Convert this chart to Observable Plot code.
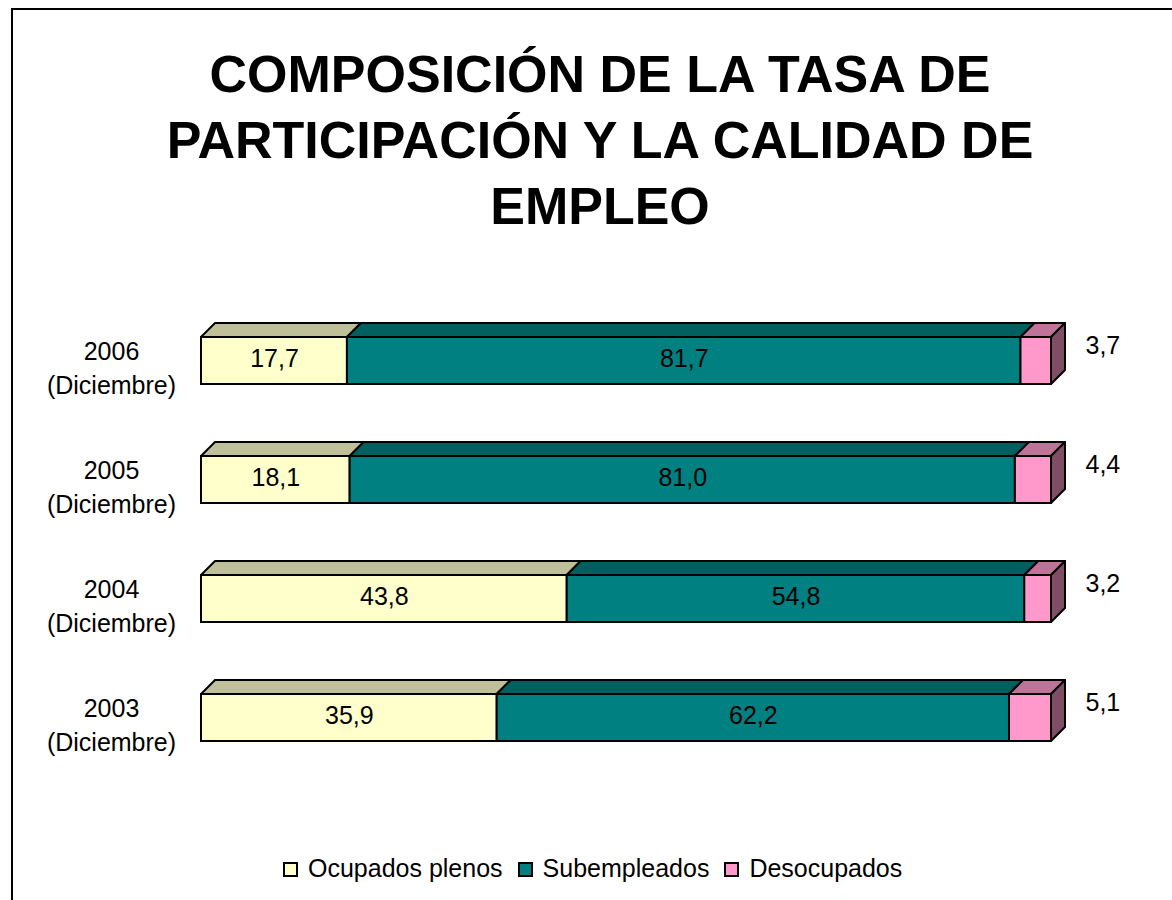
<!DOCTYPE html>
<html>
<head>
<meta charset="utf-8">
<script src="https://cdn.jsdelivr.net/npm/d3@7"></script>
<script src="https://cdn.jsdelivr.net/npm/@observablehq/plot@0.6"></script>
<style>
  html, body { margin: 0; padding: 0; background: #fff; overflow: hidden; }
  body { width: 1172px; height: 900px; position: relative; font-family: "Liberation Sans", Arial, sans-serif; }
  #frame { position: absolute; left: 11px; top: 8px; width: 1300px; height: 1000px; border: 2px solid #000; pointer-events: none; }
  #title { width: 1200px; padding-top: 41px; height: 209px; text-align: center; font-weight: bold; font-size: 52px; line-height: 66px; color: #000; box-sizing: content-box; }
  #chart svg { display: block; overflow: visible; }
  #legend { padding-top: 13px; padding-left: 283px; font-size: 25px; line-height: 30px; white-space: nowrap; color: #000; }
  .sw { display: inline-block; width: 15px; height: 15px; border: 2px solid #000; box-sizing: border-box; vertical-align: baseline; margin-right: 10px; }
  .item { margin-right: 15px; }
</style>
</head>
<body>
<div id="frame"></div>
<div id="title">COMPOSICIÓN DE LA TASA DE<br>PARTICIPACIÓN Y LA CALIDAD DE<br>EMPLEO</div>
<div id="chart"></div>
<div id="legend"></div>
<script>
// ---- data ----
const years = ["2006", "2005", "2004", "2003"];
const yearSub = "(Diciembre)";
const seriesNames = ["Ocupados plenos", "Subempleados", "Desocupados"];
const ocupados = [17.7, 18.1, 43.8, 35.9];
const subempleados = [81.7, 81.0, 54.8, 62.2];
const desocupados = [3.7, 4.4, 3.2, 5.1];
const frontColors = ["#FFFFCC", "#008080", "#FF99CC"];
const topColors = ["#BFBF99", "#006060", "#BF7399"];
const sideColor = "#804D66";

// ---- build stacked, normalized table ----
const seriesValues = [ocupados, subempleados, desocupados];
const rows = [];
years.forEach((yr, j) => {
  const total = seriesValues.reduce((s, arr) => s + arr[j], 0);
  let acc = 0;
  seriesValues.forEach((arr, k) => {
    const v = arr[j];
    rows.push({
      year: yr, series: seriesNames[k], k, value: v,
      x1: acc / total, x2: (acc + v) / total,
      top: topColors[k], label: v.toFixed(1).replace(".", ",")
    });
    acc += v;
  });
});

const D = 14; // 3D depth in px
const SW = 2;

function bw(scales) {
  const b = scales.y.bandwidth;
  return typeof b === "function" ? b() : b;
}

const topFaces = Plot.barX(rows, {
  x1: "x1", x2: "x2", y: "year",
  render(index, scales, values) {
    const g = d3.create("svg:g");
    for (const i of index) {
      const x1 = values.x1[i], x2 = values.x2[i], y = values.y[i];
      g.append("path")
        .attr("d", `M${x1},${y}L${x1 + D},${y - D}L${x2 + D},${y - D}L${x2},${y}Z`)
        .attr("fill", rows[i].top).attr("stroke", "#000")
        .attr("stroke-width", SW).attr("stroke-linejoin", "round");
    }
    return g.node();
  }
});

const lastRows = rows.filter(d => d.k === seriesNames.length - 1);
const sideFaces = Plot.barX(lastRows, {
  x1: "x1", x2: "x2", y: "year",
  render(index, scales, values) {
    const g = d3.create("svg:g");
    const h = bw(scales);
    for (const i of index) {
      const x2 = values.x2[i], y = values.y[i];
      g.append("path")
        .attr("d", `M${x2},${y}L${x2 + D},${y - D}L${x2 + D},${y + h - D}L${x2},${y + h}Z`)
        .attr("fill", sideColor).attr("stroke", "#000")
        .attr("stroke-width", SW).attr("stroke-linejoin", "round");
    }
    return g.node();
  }
});

const chart = Plot.plot({
  width: 1172,
  height: 590,
  marginLeft: 201,
  marginRight: 121,
  marginTop: 15,
  marginBottom: 27,
  style: { fontFamily: "'Liberation Sans', Arial, sans-serif", overflow: "visible", background: "transparent" },
  x: { domain: [0, 1], axis: null },
  y: { domain: years, padding: 0.605, axis: null },
  color: { domain: seriesNames, range: frontColors },
  marks: [
    topFaces,
    sideFaces,
    Plot.barX(rows, { x1: "x1", x2: "x2", y: "year", fill: "series", stroke: "#000", strokeWidth: SW }),
    Plot.text(rows.filter(d => d.k < seriesNames.length - 1), {
      x: d => (d.x1 + d.x2) / 2, y: "year", text: "label",
      fontSize: 25, fill: "#000", dy: -2
    }),
    Plot.text(lastRows, {
      x: "x2", y: "year", text: "label", textAnchor: "start",
      fontSize: 25, fill: "#000", dx: 34, dy: -15
    }),
    Plot.text(years, {
      y: d => d, frameAnchor: "left", text: d => d + "\n" + yearSub,
      textAnchor: "middle", dx: -90, dy: 5.5, lineHeight: 1.36,
      fontSize: 25, fill: "#000"
    })
  ]
});
document.getElementById("chart").appendChild(chart);

// ---- legend ----
const legend = document.getElementById("legend");
seriesNames.forEach((name, k) => {
  const item = document.createElement("span");
  item.className = "item";
  const sw = document.createElement("span");
  sw.className = "sw";
  sw.style.background = frontColors[k];
  item.appendChild(sw);
  item.appendChild(document.createTextNode(name));
  legend.appendChild(item);
});
</script>
</body>
</html>
